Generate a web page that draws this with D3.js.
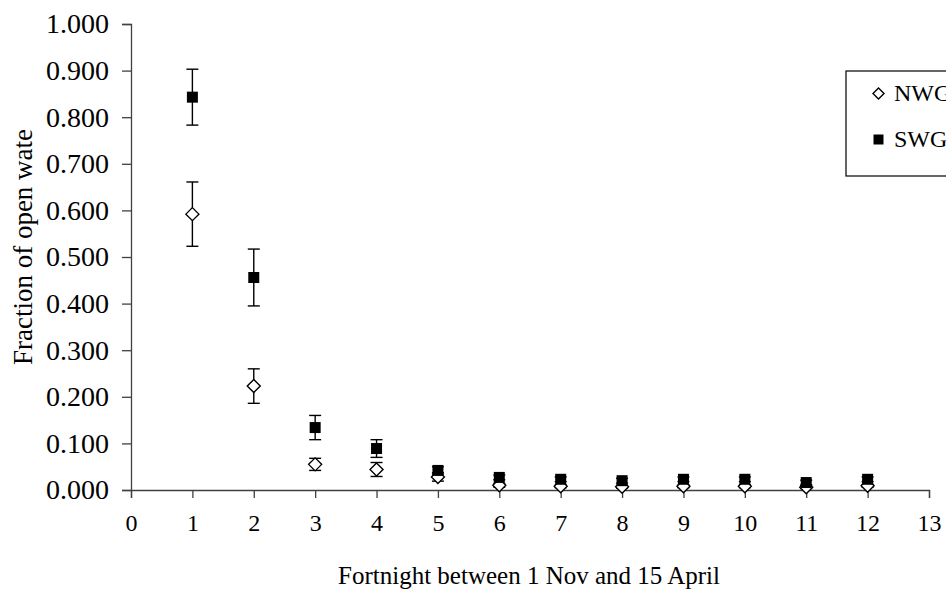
<!DOCTYPE html>
<html>
<head>
<meta charset="utf-8">
<script src="https://cdn.jsdelivr.net/npm/d3@7"></script>
<style>
  html, body { margin: 0; padding: 0; background: #fff; }
  svg { display: block; }
  svg text { font-family: "Liberation Serif", "Times New Roman", Tinos, "DejaVu Serif", serif; }
</style>
</head>
<body>
<svg id="chart" width="946" height="594"></svg>
<script>
// Fortnight index (1 = first fortnight of November)
const fortnights = [1, 2, 3, 4, 5, 6, 7, 8, 9, 10, 11, 12];

// Fraction of open water, mean and error (±) per fortnight
const nwgValues = [0.592, 0.223, 0.055, 0.044, 0.028, 0.010, 0.008, 0.007, 0.008, 0.008, 0.006, 0.009];
const nwgErrors = [0.069, 0.037, 0.013, 0.015, 0.009, 0.004, 0.003, 0.003, 0.003, 0.003, 0.003, 0.003];
const swgValues = [0.843, 0.456, 0.134, 0.089, 0.042, 0.027, 0.023, 0.020, 0.023, 0.023, 0.016, 0.023];
const swgErrors = [0.060, 0.061, 0.026, 0.019, 0.008, 0.005, 0.005, 0.005, 0.005, 0.005, 0.005, 0.005];

const xTicks = d3.range(0, 14);
const yTicks = d3.range(0, 11).map(d => d / 10);

const seriesNames = ["NWG", "SWG"];
const xTitle = "Fortnight between 1 Nov and 15 April";
const yTitle = "Fraction of open wate";

const serif = "'Liberation Serif', 'Times New Roman', Tinos, 'DejaVu Serif', serif";

const svg = d3.select("#chart");
const x = d3.scaleLinear().domain([0, 13]).range([131, 929]);
const y = d3.scaleLinear().domain([0, 1]).range([490, 24]);

const axisColor = "#404040";

// Y axis
const yAxis = svg.append("g")
  .attr("transform", `translate(${x(0)},0)`)
  .call(d3.axisLeft(y).tickValues(yTicks).tickFormat(d3.format(".3f")).tickSize(9).tickPadding(13));
yAxis.attr("font-family", serif);
yAxis.select(".domain").attr("stroke", axisColor).attr("stroke-width", 1.3);
yAxis.selectAll(".tick line").attr("stroke", axisColor).attr("stroke-width", 1.3);
yAxis.selectAll(".tick text")
  .attr("fill", "#000")
  .attr("font-family", serif)
  .attr("font-size", 28);

// X axis
const xAxis = svg.append("g")
  .attr("transform", `translate(0,${y(0)})`)
  .call(d3.axisBottom(x).tickValues(xTicks).tickFormat(d3.format("d")).tickSize(8).tickPadding(16));
xAxis.attr("font-family", serif);
xAxis.select(".domain").attr("stroke", axisColor).attr("stroke-width", 1.3);
xAxis.selectAll(".tick line").attr("stroke", axisColor).attr("stroke-width", 1.3);
xAxis.selectAll(".tick text")
  .attr("fill", "#000")
  .attr("font-family", serif)
  .attr("font-size", 24);

// Axis titles
svg.append("text")
  .attr("x", 529)
  .attr("y", 584)
  .attr("text-anchor", "middle")
  .attr("font-family", serif)
  .attr("font-size", 25)
  .text(xTitle);

svg.append("text")
  .attr("transform", `translate(32,247) rotate(-90)`)
  .attr("text-anchor", "middle")
  .attr("font-family", serif)
  .attr("font-size", 27)
  .text(yTitle);

// Error bars
function drawErrors(vals, errs) {
  const g = svg.append("g").attr("stroke", "#000").attr("stroke-width", 1.4).attr("fill", "none");
  fortnights.forEach((f, i) => {
    const cx = x(f);
    const top = y(vals[i] + errs[i]);
    const bot = y(vals[i] - errs[i]);
    g.append("line").attr("x1", cx).attr("x2", cx).attr("y1", top).attr("y2", bot);
    g.append("line").attr("x1", cx - 6).attr("x2", cx + 6).attr("y1", top).attr("y2", top);
    g.append("line").attr("x1", cx - 6).attr("x2", cx + 6).attr("y1", bot).attr("y2", bot);
  });
}
drawErrors(nwgValues, nwgErrors);
drawErrors(swgValues, swgErrors);

const diamond = (cx, cy, r) => `M${cx},${cy - r}L${cx + r},${cy}L${cx},${cy + r}L${cx - r},${cy}Z`;

// NWG: open diamonds
svg.append("g").selectAll("path")
  .data(fortnights)
  .join("path")
  .attr("d", (f, i) => diamond(x(f), y(nwgValues[i]), 6.5))
  .attr("fill", "#fff")
  .attr("stroke", "#000")
  .attr("stroke-width", 1.4);

// SWG: filled squares
svg.append("g").selectAll("rect")
  .data(fortnights)
  .join("rect")
  .attr("x", f => x(f) - 5.5)
  .attr("y", (f, i) => y(swgValues[i]) - 5.5)
  .attr("width", 11)
  .attr("height", 11)
  .attr("fill", "#000");

// Legend (runs past the right edge of the canvas)
const legend = svg.append("g");
legend.append("rect")
  .attr("x", 846).attr("y", 71)
  .attr("width", 120).attr("height", 105)
  .attr("fill", "#fff").attr("stroke", "#000").attr("stroke-width", 1.2);
legend.append("path")
  .attr("d", diamond(878.5, 93.5, 5.5))
  .attr("fill", "#fff").attr("stroke", "#000").attr("stroke-width", 1.4);
legend.append("rect")
  .attr("x", 873.5).attr("y", 134.5).attr("width", 10).attr("height", 10)
  .attr("fill", "#000");
legend.append("text").attr("x", 894).attr("y", 101).attr("font-family", serif).attr("font-size", 24).text(seriesNames[0]);
legend.append("text").attr("x", 894).attr("y", 147).attr("font-family", serif).attr("font-size", 24).text(seriesNames[1]);
</script>
</body>
</html>
